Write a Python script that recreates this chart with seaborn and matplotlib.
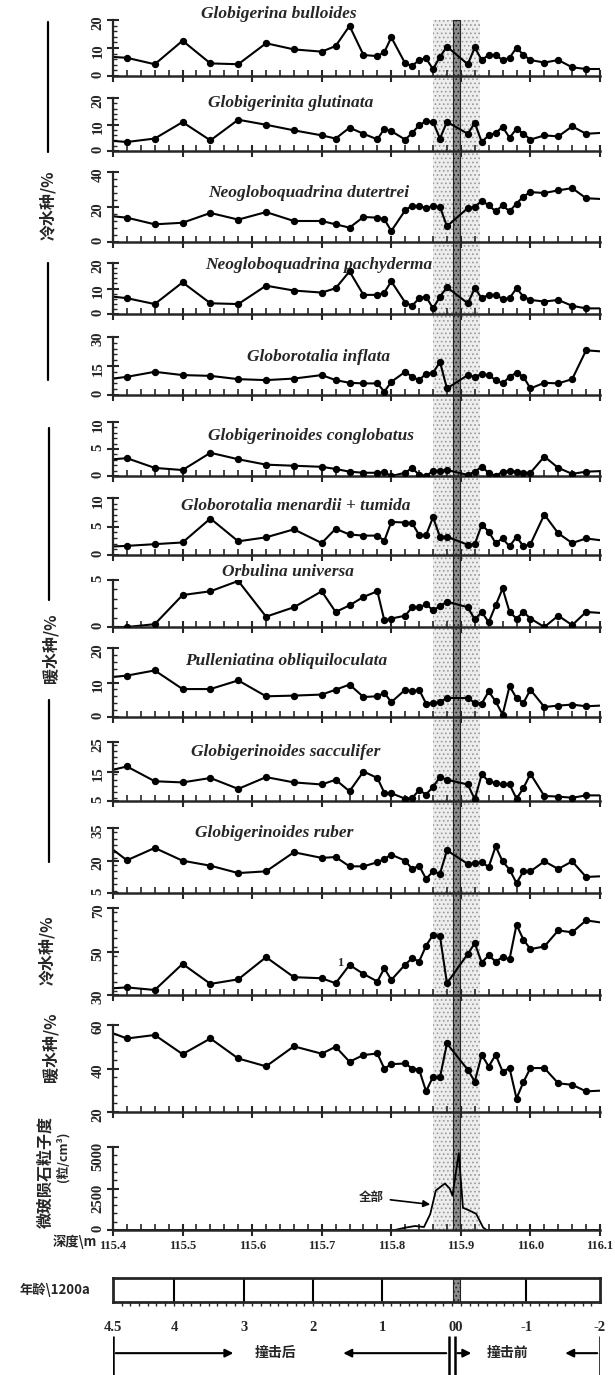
import numpy as np
import seaborn as sns
import matplotlib.pyplot as plt
import matplotlib.transforms as mtransforms
from matplotlib.patches import Rectangle
from matplotlib.lines import Line2D
from matplotlib.ticker import MultipleLocator

# sample depths (m); first and last entries are the panel edges (no marker)
depth = [115.40, 115.42, 115.46, 115.50, 115.54, 115.58, 115.62, 115.66, 115.70, 115.72,
         115.74, 115.76, 115.78, 115.79, 115.80, 115.82, 115.83, 115.84, 115.85, 115.86,
         115.87, 115.88, 115.91, 115.92, 115.93, 115.94, 115.95, 115.96, 115.97, 115.98,
         115.99, 116.00, 116.02, 116.04, 116.06, 116.08, 116.10]

bulloides = [6.8, 6.5, 4.2, 12.6, 4.5, 4.2, 11.7, 9.5, 8.7, 10.7, 17.9, 7.5, 7.1, 8.5, 13.8, 4.5, 3.6, 5.7, 6.3,
             2.4, 6.9, 10.5, 4.2, 10.2, 5.7, 7.5, 7.5, 5.7, 6.5, 10.1, 7.5, 5.7, 4.8, 5.7, 3.1, 2.5, 2.5]
glutinata = [3.8, 3.4, 4.7, 10.9, 4.0, 11.8, 9.9, 7.8, 5.9, 4.7, 8.8, 6.5, 4.4, 8.4, 7.5, 4.3, 6.8, 9.7, 11.2,
             11.0, 4.7, 11.0, 6.5, 10.6, 3.4, 5.9, 6.8, 9.1, 5.0, 8.4, 6.5, 4.3, 5.9, 5.5, 9.3, 6.5, 6.8]
dutertrei = [14.7, 13.9, 10.1, 11.0, 16.6, 12.8, 17.1, 12.0, 12.0, 10.1, 8.2, 14.3, 13.9, 13.0, 6.3, 18.1, 20.8,
             20.4, 19.6, 20.4, 20.0, 9.0, 19.4, 20.0, 23.5, 21.0, 17.5, 21.0, 17.5, 22.0, 26.0, 28.5, 28.0,
             29.5, 30.8, 25.0, 24.6]
pachyderma = [6.8, 6.2, 3.9, 12.4, 4.2, 3.9, 11.1, 9.2, 8.4, 10.1, 16.7, 7.5, 7.5, 8.4, 12.8, 4.5, 3.2, 6.2, 6.8,
              2.2, 6.8, 10.5, 4.2, 10.1, 6.2, 7.5, 7.5, 5.9, 6.2, 10.1, 6.8, 5.5, 4.9, 5.5, 3.2, 2.2, 2.2]
inflata = [8.5, 9.4, 12.0, 10.3, 9.9, 8.2, 7.7, 8.5, 10.3, 7.7, 6.3, 6.0, 6.0, 1.7, 6.8, 12.0, 9.4, 7.7, 11.1,
           11.5, 17.1, 3.4, 10.3, 9.4, 10.8, 10.3, 7.7, 6.0, 9.4, 11.5, 9.4, 3.4, 6.3, 6.0, 8.2, 23.1, 22.6]
conglobatus = [3.1, 3.3, 1.5, 1.1, 4.3, 3.1, 2.1, 1.9, 1.7, 1.3, 0.8, 0.6, 0.6, 0.7, 0.0, 0.6, 1.5, 0.2, 0.0,
               0.9, 1.0, 1.1, 0.2, 0.8, 1.7, 0.6, 0.0, 0.8, 0.9, 0.8, 0.6, 0.6, 3.6, 1.5, 0.4, 0.8, 0.9]
menardii = [1.5, 1.6, 1.9, 2.2, 6.4, 2.4, 3.1, 4.5, 2.1, 4.6, 3.6, 3.4, 3.4, 2.5, 5.8, 5.7, 5.6, 3.5, 3.5, 6.6,
            3.2, 3.2, 1.8, 1.9, 5.3, 4.1, 2.1, 2.9, 1.5, 3.2, 1.5, 1.9, 7.1, 3.8, 2.1, 2.9, 2.6]
orbulina = [0.0, 0.0, 0.3, 3.4, 3.8, 4.9, 1.1, 2.1, 3.8, 1.6, 2.3, 3.2, 3.8, 0.7, 0.9, 1.2, 2.1, 2.1, 2.4, 1.8,
            2.2, 2.7, 2.1, 0.8, 1.6, 0.5, 2.3, 4.1, 1.6, 0.9, 1.6, 0.9, 0.0, 1.2, 0.2, 1.6, 1.5]
pulleniatina = [11.6, 12.0, 13.5, 8.1, 8.1, 10.6, 6.0, 6.2, 6.5, 7.9, 9.4, 5.8, 6.0, 7.0, 4.3, 7.9, 7.4, 7.9,
                3.9, 4.1, 4.3, 5.5, 5.5, 4.1, 3.9, 7.4, 4.5, 0.7, 8.9, 5.5, 4.1, 7.9, 2.9, 3.3, 3.6, 3.1, 3.3]
sacculifer = [15.6, 16.7, 11.7, 11.3, 12.8, 9.1, 13.1, 11.3, 10.6, 12.2, 8.3, 15.0, 12.8, 7.8, 7.6, 5.8, 6.0,
              8.7, 7.2, 9.8, 13.1, 12.2, 10.6, 5.6, 14.0, 11.7, 11.1, 10.6, 10.6, 5.8, 9.4, 14.2, 6.7, 6.5,
              6.1, 6.9, 6.9]
ruber = [25.0, 20.1, 25.8, 19.9, 17.6, 14.2, 15.0, 23.8, 21.2, 21.6, 17.3, 17.3, 19.2, 20.7, 22.7, 19.9, 16.1,
         17.6, 11.5, 15.0, 13.9, 24.7, 18.4, 18.8, 19.2, 17.0, 26.5, 19.6, 15.8, 9.6, 15.0, 15.0, 19.6, 16.1,
         19.6, 12.4, 12.7]
cold_total = [33.1, 33.5, 32.3, 44.3, 35.1, 37.2, 47.4, 38.2, 37.7, 35.4, 43.8, 39.7, 36.2, 42.3, 36.9, 44.0,
              46.9, 45.4, 52.6, 57.7, 57.0, 35.4, 48.9, 53.8, 44.9, 48.2, 45.4, 47.4, 46.5, 62.3, 55.4, 51.1,
              52.3, 59.7, 58.8, 64.3, 63.4]
warm_total = [56.2, 53.8, 55.4, 46.6, 53.8, 44.6, 41.0, 50.2, 46.8, 50.0, 43.1, 46.2, 46.9, 39.9, 42.0, 42.3,
              40.0, 39.5, 29.5, 36.2, 35.9, 51.5, 39.4, 34.0, 46.3, 40.9, 46.3, 38.6, 40.2, 26.2, 33.8, 40.2,
              40.2, 33.2, 32.5, 29.5, 29.8]

# microtektite abundance (grains/cm3)
teph_depth = [115.40, 115.805, 115.82, 115.834, 115.847, 115.856, 115.864, 115.877, 115.884, 115.888,
              115.897, 115.903, 115.91, 115.922, 115.932, 115.937, 116.10]
tephra = [0, 0, 140, 240, 180, 960, 2380, 2800, 2500, 2070, 4630, 1340, 1220, 975, 150, 0, 0]

series = [bulloides, glutinata, dutertrei, pachyderma, inflata, conglobatus, menardii, orbulina,
          pulleniatina, sacculifer, ruber, cold_total, warm_total]
titles = ['Globigerina bulloides', 'Globigerinita glutinata', 'Neogloboquadrina dutertrei',
          'Neogloboquadrina pachyderma', 'Globorotalia inflata', 'Globigerinoides conglobatus',
          'Globorotalia menardii + tumida', 'Orbulina universa', 'Pulleniatina obliquiloculata',
          'Globigerinoides sacculifer', 'Globigerinoides ruber']
y_ticks = [[0, 10, 20], [0, 10, 20], [0, 20, 40], [0, 10, 20], [0, 15, 30], [0, 5, 10], [0, 5, 10], [0, 5],
           [0, 10, 20], [5, 15, 25], [5, 20, 35], [30, 50, 70], [20, 40, 60], [0, 2500, 5000]]

depth_ticks = [115.4, 115.5, 115.6, 115.7, 115.8, 115.9, 116.0, 116.1]
depth_labels = ['115.4', '115.5', '115.6', '115.7', '115.8', '115.9', '116.0', '116.1']
age_pos = [115.4, 115.488, 115.588, 115.688, 115.787, 115.893, 115.994, 116.1]
age_labels = ['4.5', '4', '3', '2', '1', '00', '-1', '-2']

band = (115.888, 115.899)    # impact layer
shade = (115.86, 115.927)    # tektite-bearing interval

sns.set_style('ticks')
plt.rcParams['font.family'] = ['Liberation Serif', 'Noto Sans CJK SC']
plt.rcParams['hatch.linewidth'] = 0.7
CJK = ['Noto Sans CJK SC', 'DejaVu Sans']

W, H = 615, 1375
fig = plt.figure(figsize=(W / 100, H / 100), dpi=100)


def fig_box(top, bottom, left=113, right=600):
    return [left / W, 1 - bottom / H, (right - left) / W, (bottom - top) / H]


panel_px = [(20, 76), (98, 151), (172, 242), (263, 314), (337, 395), (422, 476), (498, 555), (580, 627),
            (648, 717), (742, 801), (828, 893), (908, 995), (1025, 1112), (1147, 1230)]

axes = []
for i, (top, bot) in enumerate(panel_px):
    ax = fig.add_axes(fig_box(top, bot))
    ax.set_facecolor('none')
    ticks = y_ticks[i]
    if i < len(series):
        vals = series[i]
        sns.lineplot(x=depth, y=vals, ax=ax, color='black', linewidth=1.5, estimator=None, sort=False)
        sns.scatterplot(x=depth[1:-1], y=vals[1:-1], ax=ax, color='black', s=28, linewidth=0, zorder=3)
    else:
        sns.lineplot(x=teph_depth, y=tephra, ax=ax, color='black', linewidth=1.3, estimator=None, sort=False)

    ax.set_xlim(115.4, 116.1)
    ax.set_ylim(ticks[0], ticks[-1])
    ax.set_yticks(ticks)
    ax.yaxis.set_minor_locator(MultipleLocator((ticks[1] - ticks[0]) / 5))
    ax.xaxis.set_major_locator(MultipleLocator(0.1))
    ax.xaxis.set_minor_locator(MultipleLocator(0.02))
    for s in ['top', 'right']:
        ax.spines[s].set_visible(False)
    ax.spines['left'].set_linewidth(1.6)
    ax.spines['bottom'].set_linewidth(1.8)
    ax.tick_params(axis='x', which='major', direction='inout', length=9, width=1.5, labelbottom=False)
    ax.tick_params(axis='x', which='minor', direction='in', length=4, width=1.2)
    ax.tick_params(axis='y', which='major', direction='inout', length=8, width=1.5, labelrotation=90,
                   labelsize=10.5, pad=2)
    ax.tick_params(axis='y', which='minor', direction='in', length=3, width=1)
    for lbl in ax.get_yticklabels():
        lbl.set_fontweight('bold')
    ax.set_xlabel('')
    ax.set_ylabel('')
    axes.append(ax)

# depth labels on the lowest panel
ax_t = axes[-1]
ax_t.set_xticks(depth_ticks)
ax_t.set_xticklabels(depth_labels, fontweight='bold', fontsize=9)
ax_t.tick_params(axis='x', which='major', labelbottom=True, pad=3)
ax_t.annotate('全部', xy=(115.86, 1520), xytext=(115.772, 1950), ha='center', va='center',
              fontsize=9, fontweight='bold', family=CJK,
              arrowprops=dict(arrowstyle='-|>', color='black', lw=1.2, mutation_scale=10))
axes[11].text(115.727, 44.5, '1', fontsize=9, fontweight='bold', ha='center', va='center')

# species names
title_px = [(279, 14), (291, 103), (309, 193), (319, 265), (319, 357), (311, 436), (296, 506),
            (288, 572), (286, 661), (286, 752), (274, 833)]
for name, (x, y) in zip(titles, title_px):
    fig.text(x / W, 1 - y / H, name, ha='center', va='center', style='italic', fontweight='bold',
             fontsize=12.5, family='Liberation Serif')

# shaded interval and impact band across the stacked panels
trans = mtransforms.blended_transform_factory(axes[0].transData, fig.transFigure)
y_top = axes[0].get_position().y1
y_bot = axes[-1].get_position().y0
fig.add_artist(Rectangle((shade[0], y_bot), shade[1] - shade[0], y_top - y_bot, transform=trans,
                         facecolor='#ededed', edgecolor='#9a9a9a', hatch='....', lw=0, zorder=-2))
fig.add_artist(Rectangle((band[0], y_bot), band[1] - band[0], y_top - y_bot, transform=trans,
                         facecolor='#8c8c8c', edgecolor='#222222', hatch='....', lw=0.8, zorder=-1))

# left group labels
for x, y0, y1 in [(48, 22, 152), (48, 263, 380), (49, 428, 600), (49, 700, 862)]:
    fig.add_artist(Line2D([x / W, x / W], [1 - y0 / H, 1 - y1 / H], color='black', lw=1.6))
left_text = [('冷水种/%', 48, 205, 11.5), ('暖水种/%', 50, 648, 11.5), ('冷水种/%', 47, 950, 11.5),
             ('暖水种/%', 50, 1047, 11.5), ('微玻陨石粒子度', 45, 1172, 11.5), ('(粒/cm³)', 63, 1157, 9)]
for txt, x, y, fs in left_text:
    fig.text(x / W, 1 - y / H, txt, rotation=90, ha='center', va='center', fontsize=fs,
             fontweight='bold', family=CJK)
fig.text(75 / W, 1 - 1242 / H, '深度\\m', ha='center', va='center', fontsize=9.5, fontweight='bold', family=CJK)
fig.text(55 / W, 1 - 1290 / H, '年龄\\1200a', ha='center', va='center', fontsize=9.5, fontweight='bold',
         family=CJK)

# age bar
ax_age = fig.add_axes(fig_box(1278, 1302))
ax_age.set_xlim(115.4, 116.1)
ax_age.set_ylim(0, 1)
for s in ax_age.spines.values():
    s.set_linewidth(2)
ax_age.set_yticks([])
ax_age.set_xticks(age_pos)
ax_age.set_xticklabels(age_labels, fontweight='bold', fontsize=10.5)
ax_age.xaxis.set_minor_locator(MultipleLocator(0.0125))
ax_age.tick_params(axis='x', which='major', length=0, pad=14)
ax_age.tick_params(axis='x', which='minor', direction='out', length=3, width=1)
for p, lab in zip(age_pos[1:-1], age_labels[1:-1]):
    if lab != '00':
        ax_age.axvline(p, color='black', lw=1.5)
ax_age.axvspan(band[0], band[1], facecolor='#8c8c8c', edgecolor='#222222', hatch='....', lw=0.8)

# before / after impact arrows
ax_arr = fig.add_axes(fig_box(1336, 1375))
ax_arr.set_xlim(115.4, 116.1)
ax_arr.set_ylim(0, 1)
ax_arr.axis('off')
ax_arr.vlines([115.4, 115.883, 115.891, 116.1], 0, 1, color='black', lw=1.8)
arrow_kw = dict(arrowstyle='-|>', color='black', lw=1.5, mutation_scale=12)
for start, end in [(115.4, 115.577), (115.883, 115.727), (115.891, 115.919), (116.1, 116.046)]:
    ax_arr.annotate('', xy=(end, 0.56), xytext=(start, 0.56), arrowprops=arrow_kw)
ax_arr.text(115.633, 0.56, '撞击后', ha='center', va='center', fontsize=10, fontweight='bold', family=CJK)
ax_arr.text(115.967, 0.56, '撞击前', ha='center', va='center', fontsize=10, fontweight='bold', family=CJK)

fig.savefig('out.png', dpi=100)
